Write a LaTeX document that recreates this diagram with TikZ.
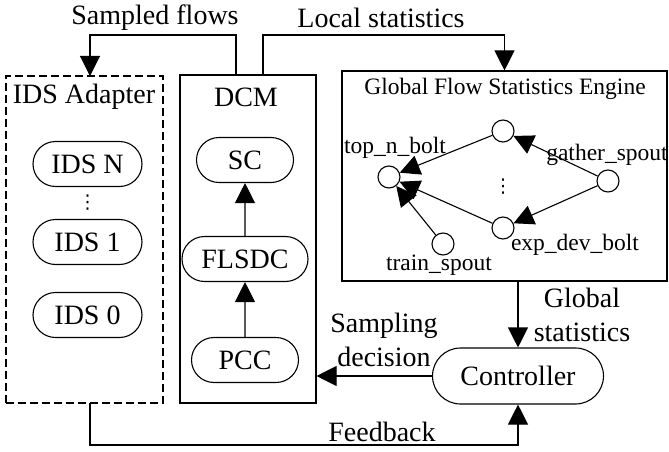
\documentclass[tikz,border=0pt]{standalone}
\usepackage{fontspec}
\setmainfont{Liberation Serif}
\newfontfamily\dotsfont{DejaVu Sans}
\usetikzlibrary{arrows.meta,shapes.misc}
\begin{document}
\begin{tikzpicture}[x=1pt,y=-1pt,
  line width=1.1pt,
  big/.style={font=\fontsize{28}{34}\selectfont},
  small/.style={font=\fontsize{23.5}{28}\selectfont},
  dotsstyle/.style={font=\dotsfont\fontsize{19}{19}\selectfont,inner sep=0pt},
  arr/.style={-{Triangle[length=20pt,width=20pt]}},
  pill/.style={draw,rounded rectangle,big,minimum height=45pt,inner sep=0pt},
  vert/.style={draw,circle,minimum size=22pt,inner sep=0pt},
  panel/.style={draw,rectangle,inner sep=0pt}]
\useasboundingbox (0,0) rectangle (669,452);

% containers
\node[panel,dashed,dash pattern=on 8pt off 4pt,minimum width=157pt,minimum height=327pt] (ida) at (84.5,239.5) {};
\node[panel,minimum width=136pt,minimum height=328pt] (dcm) at (248,239) {};
\node[panel,minimum width=325pt,minimum height=210pt] (eng) at (504.5,176) {};
\node[big] (idat) at (84,97) {IDS Adapter};
\node[big] (dcmt) at (246,97) {DCM};
\node[small] (engt) at (505,89) {Global Flow Statistics Engine};

% IDS instances
\node[pill,minimum width=109pt] (idsn) at (87.5,164) {IDS N};
\node[dotsstyle] (idsdots) at (87.5,203) {⋮};
\node[pill,minimum width=109pt] (ids1) at (87.5,242) {IDS 1};
\node[pill,minimum width=109pt] (ids0) at (87.5,315) {IDS 0};

% DCM pipeline
\node[pill,minimum width=97pt] (sc) at (245,160) {SC};
\node[pill,minimum width=126pt] (flsdc) at (245,259) {FLSDC};
\node[pill,minimum width=107pt] (pcc) at (245,360) {PCC};
\draw[arr] (pcc) -- (flsdc);
\draw[arr] (flsdc) -- (sc);

% controller
\node[draw,rounded rectangle,big,minimum width=171pt,minimum height=56pt,inner sep=0pt] (ctrl) at (518,376) {Controller};

% topology inside the engine
\node[vert] (tnb) at (389,177) {};
\node[vert] (up) at (503,131) {};
\node[vert] (lo) at (503,228) {};
\node[vert] (gs) at (608,181) {};
\node[vert] (ts) at (443,244) {};
\node[dotsstyle] (edots) at (503,187) {⋮};
\node[small] (tnbl) at (395,148) {top\_n\_bolt};
\node[small] (gsl) at (607,155) {gather\_spout};
\node[small] (lol) at (575,245) {exp\_dev\_bolt};
\node[small] (tsl) at (439,265) {train\_spout};
\draw[arr] (gs) -- (up);
\draw[arr] (gs) -- (lo);
\draw[arr] (up) -- (tnb);
\draw[arr] (lo) -- (tnb);
\draw[arr] (ts) -- (tnb);

% connectors between the modules
\coordinate (sfout) at (236,75);
\coordinate (lsout) at (263,75);
\coordinate (idsin) at (90,76);
\coordinate (idsout) at (90,403);
\draw[arr] (sfout) -- (236,35) -- (90,35) -- (idsin);
\draw[arr] (lsout) -- (263,35) -- (504.5,35) -- (eng.north);
\draw[arr] (ctrl.north |- eng.south) -- (ctrl.north);
\draw[arr] (ctrl.west) -- (ctrl.west -| dcm.east);
\draw[arr] (idsout) -- (90,445) -| (ctrl.south);

% connector labels
\node[big] (sfl) at (155,18) {Sampled flows};
\node[big] (lsl) at (381,18) {Local statistics};
\node[big,align=center] (gsl2) at (582,315) {Global\\statistics};
\node[big,align=center] (sdl) at (384,340) {Sampling\\decision};
\node[big] (fbl) at (382,432) {Feedback};
\end{tikzpicture}
\end{document}
